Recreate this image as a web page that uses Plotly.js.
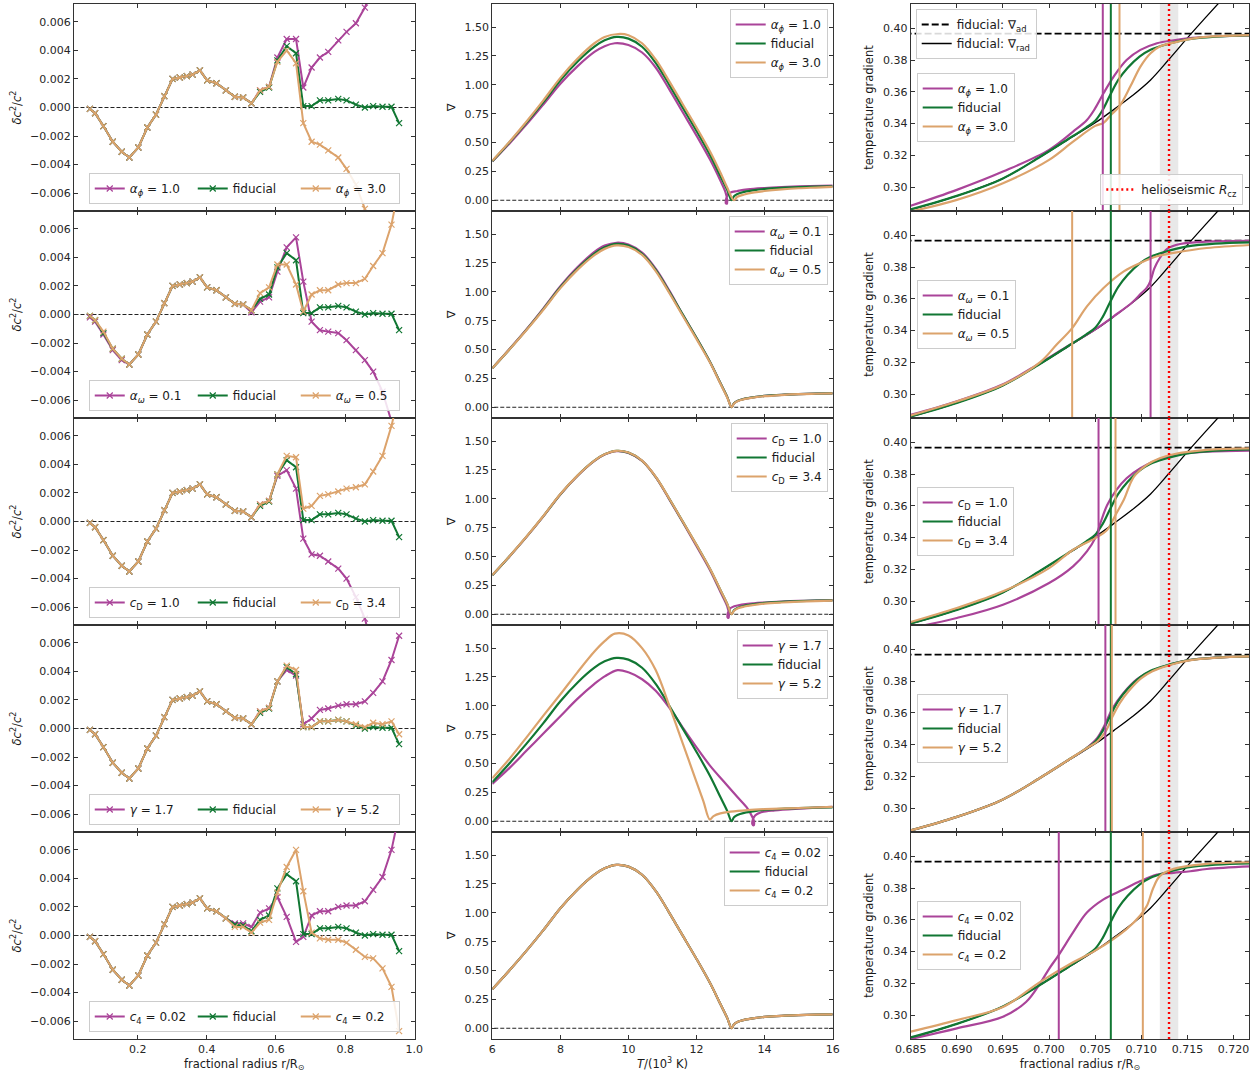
<!DOCTYPE html>
<html>
<head>
<meta charset="utf-8">
<script src="https://cdn.plot.ly/plotly-3.0.1.min.js"></script>
<style>
  html, body { margin: 0; padding: 0; background: #fff; }
  #chart { width: 1258px; height: 1076px; }
</style>
</head>
<body>
<div id="chart"></div>
<script>
// ---------------------------------------------------------------
// Left column: relative sound-speed difference vs fractional radius
// ---------------------------------------------------------------
const R = [0.062, 0.077, 0.101, 0.128, 0.154, 0.176, 0.202, 0.228, 0.253, 0.277,
           0.301, 0.322, 0.342, 0.359, 0.380, 0.401, 0.428, 0.455, 0.481, 0.505,
           0.529, 0.554, 0.580, 0.604, 0.631, 0.658, 0.679, 0.703, 0.727, 0.751,
           0.780, 0.804, 0.831, 0.857, 0.881, 0.908, 0.934, 0.956];

const DC_FID = [-0.0001, -0.0004, -0.0013, -0.0024, -0.0031, -0.0035, -0.0028, -0.0014, -0.0005, 0.0008,
                 0.0020, 0.0021, 0.0022, 0.0023, 0.0026, 0.0019, 0.0017, 0.0012, 0.00075, 0.0007,
                 0.0003, 0.0011, 0.0014, 0.0033, 0.0043, 0.0038, 0.0001, 0.0001, 0.0005, 0.0005,
                 0.0006, 0.0005, 0.0002, 0.0000, 0.0001, 0.00005, 0.00005, -0.0011];

const DC_PHI1 = [-0.0001, -0.0004, -0.0013, -0.0024, -0.0031, -0.0035, -0.0028, -0.0014, -0.0005, 0.0008,
                  0.0020, 0.0021, 0.0022, 0.0023, 0.0026, 0.0019, 0.0017, 0.0012, 0.00075, 0.0007,
                  0.0003, 0.0012, 0.00145, 0.0035, 0.0048, 0.0048, 0.0014, 0.0028, 0.0035, 0.0039,
                  0.0047, 0.0053, 0.0059, 0.0070, 0.0085, 0.0100, 0.0120, 0.0150];
const DC_PHI3 = [-0.0001, -0.0004, -0.0013, -0.0024, -0.0031, -0.0035, -0.0028, -0.0014, -0.0005, 0.0008,
                  0.0020, 0.0021, 0.0022, 0.0023, 0.0026, 0.0019, 0.0017, 0.0012, 0.00075, 0.0007,
                  0.0003, 0.0012, 0.00145, 0.0032, 0.0040, 0.0031, -0.0011, -0.0024, -0.0026, -0.0030,
                  -0.0035, -0.0043, -0.0054, -0.0071, -0.0090, -0.0110, -0.0130, -0.0160];

const DC_OM1 = [-0.0002, -0.0005, -0.0014, -0.0025, -0.0032, -0.0035, -0.0028, -0.0014, -0.0005, 0.0008,
                 0.0020, 0.0021, 0.0022, 0.0023, 0.0026, 0.0019, 0.0017, 0.0012, 0.00075, 0.0007,
                 0.00015, 0.0009, 0.0012, 0.0030, 0.0047, 0.0054, 0.0023, -0.0005, -0.0011, -0.0012,
                 -0.0013, -0.0018, -0.0025, -0.0032, -0.0040, -0.0054, -0.0075, -0.0100];
const DC_OM5 = [-0.0001, -0.0004, -0.0012, -0.0024, -0.0031, -0.0035, -0.0028, -0.0014, -0.0005, 0.0008,
                 0.0020, 0.0021, 0.0022, 0.0023, 0.0026, 0.0019, 0.0017, 0.0012, 0.00075, 0.0007,
                 0.0003, 0.0015, 0.0019, 0.0035, 0.0035, 0.0021, 0.0002, 0.0014, 0.0017, 0.0017,
                 0.0021, 0.0022, 0.0022, 0.0025, 0.0034, 0.0043, 0.0063, 0.0090];

const DC_CD1 = [-0.0001, -0.0004, -0.0013, -0.0024, -0.0031, -0.0035, -0.0028, -0.0014, -0.0005, 0.0008,
                 0.0020, 0.0021, 0.0022, 0.0023, 0.0026, 0.0019, 0.0017, 0.0012, 0.00075, 0.0007,
                 0.0003, 0.0012, 0.00145, 0.0032, 0.0036, 0.0023, -0.0012, -0.0023, -0.0024, -0.0028,
                 -0.0033, -0.0040, -0.0053, -0.0068, -0.0090, -0.0110, -0.0130, -0.0160];
const DC_CD3 = [-0.0001, -0.0004, -0.0013, -0.0024, -0.0031, -0.0035, -0.0028, -0.0014, -0.0005, 0.0008,
                 0.0020, 0.0021, 0.0022, 0.0023, 0.0026, 0.0019, 0.0017, 0.0012, 0.00075, 0.0007,
                 0.0003, 0.0012, 0.00145, 0.0033, 0.0046, 0.0045, 0.0009, 0.0011, 0.0018, 0.0019,
                 0.0021, 0.0023, 0.0024, 0.0026, 0.0035, 0.0046, 0.0067, 0.0090];

const DC_G17 = [-0.0001, -0.0004, -0.0013, -0.0024, -0.0031, -0.0035, -0.0028, -0.0014, -0.0005, 0.0008,
                 0.0020, 0.0021, 0.0022, 0.0023, 0.0026, 0.0019, 0.0017, 0.0012, 0.00075, 0.0007,
                 0.0003, 0.0012, 0.00145, 0.0033, 0.0041, 0.0037, 0.0003, 0.0007, 0.0013, 0.0014,
                 0.0016, 0.0017, 0.0017, 0.0019, 0.0025, 0.0033, 0.0048, 0.0065];
const DC_G52 = [-0.0001, -0.0004, -0.0013, -0.0024, -0.0031, -0.0035, -0.0028, -0.0014, -0.0005, 0.0008,
                 0.0020, 0.0021, 0.0022, 0.0023, 0.0026, 0.0019, 0.0017, 0.0012, 0.00075, 0.0007,
                 0.0003, 0.0012, 0.00145, 0.0033, 0.0044, 0.0041, 0.0001, 0.0001, 0.0005, 0.0005,
                 0.0006, 0.0005, 0.0003, 0.0001, 0.0004, 0.0003, 0.0005, -0.0004];

const DC_C4LO = [-0.0001, -0.0004, -0.0013, -0.0024, -0.0031, -0.0035, -0.0028, -0.0014, -0.0005, 0.0008,
                  0.0020, 0.0021, 0.0022, 0.0023, 0.0026, 0.0019, 0.0017, 0.0012, 0.00085, 0.00085,
                  0.0006, 0.0016, 0.0019, 0.0027, 0.0013, -0.00045, -0.0001, 0.0014, 0.0017, 0.0017,
                  0.0020, 0.0021, 0.0021, 0.0024, 0.0032, 0.0041, 0.0060, 0.0085];
const DC_C4HI = [-0.0001, -0.0004, -0.0013, -0.0024, -0.0031, -0.0035, -0.0028, -0.0014, -0.0005, 0.0008,
                  0.0020, 0.0021, 0.0022, 0.0023, 0.0026, 0.0019, 0.0017, 0.0012, 0.0006, 0.0006,
                  0.0002, 0.0009, 0.0011, 0.0030, 0.0048, 0.0060, 0.0031, 0.0002, -0.0002, -0.0003,
                  -0.0003, -0.0005, -0.0010, -0.0015, -0.0016, -0.0023, -0.0036, -0.0067];

// ---------------------------------------------------------------
// Middle column: superadiabatic gradient vs temperature
// ---------------------------------------------------------------
const T_FID = [6.0, 6.5, 7.0, 7.5, 8.0, 8.5, 9.0, 9.3, 9.65, 10.0, 10.4, 10.8, 11.2, 11.6,
               12.0, 12.4, 12.7, 12.9, 13.03, 13.1, 13.2, 13.4, 13.7, 14.0, 14.5, 15.0, 15.5, 16.0];
const N_FID = [0.338, 0.50, 0.67, 0.85, 1.04, 1.20, 1.33, 1.385, 1.415, 1.40, 1.33, 1.19, 1.00, 0.80,
               0.60, 0.39, 0.21, 0.09, 0.0, 0.035, 0.055, 0.073, 0.088, 0.098, 0.108, 0.114, 0.118, 0.121];

const T_PHI1 = [6.0, 6.5, 7.0, 7.5, 8.0, 8.5, 9.0, 9.3, 9.6, 10.0, 10.4, 10.8, 11.2, 11.6, 12.0,
                12.4, 12.7, 12.85, 12.9, 12.89, 12.86, 12.87, 12.92, 13.0, 13.2, 13.5, 14.0, 14.5, 15.0, 16.0];
const N_PHI1 = [0.335, 0.49, 0.655, 0.83, 1.01, 1.16, 1.285, 1.335, 1.36, 1.345, 1.28, 1.15, 0.96, 0.76, 0.56,
                0.35, 0.17, 0.07, 0.0, -0.03, -0.025, 0.01, 0.05, 0.068, 0.08, 0.094, 0.106, 0.114, 0.12, 0.128];
const T_PHI3 = [6.0, 6.5, 7.0, 7.5, 8.0, 8.5, 9.0, 9.3, 9.7, 10.0, 10.4, 10.8, 11.2, 11.6, 12.0,
                12.4, 12.7, 12.9, 13.1, 13.2, 13.4, 13.7, 14.0, 14.5, 15.0, 15.5, 16.0];
const N_PHI3 = [0.342, 0.505, 0.68, 0.865, 1.06, 1.225, 1.36, 1.415, 1.44, 1.43, 1.36, 1.22, 1.03, 0.83, 0.63,
                0.42, 0.24, 0.11, 0.0, 0.03, 0.05, 0.068, 0.08, 0.094, 0.104, 0.11, 0.116];

const N_OM1 = [0.338, 0.502, 0.673, 0.856, 1.048, 1.212, 1.345, 1.40, 1.425, 1.41, 1.34, 1.20, 1.01, 0.80,
               0.60, 0.39, 0.21, 0.09, 0.0, 0.035, 0.055, 0.073, 0.088, 0.098, 0.108, 0.114, 0.118, 0.121];
const N_OM5 = [0.338, 0.50, 0.667, 0.845, 1.032, 1.19, 1.318, 1.372, 1.402, 1.388, 1.32, 1.18, 0.99, 0.79,
               0.59, 0.385, 0.205, 0.085, 0.0, 0.033, 0.053, 0.071, 0.086, 0.096, 0.106, 0.113, 0.117, 0.12];

const T_CD1 = [6.0, 6.5, 7.0, 7.5, 8.0, 8.5, 9.0, 9.3, 9.65, 10.0, 10.4, 10.8, 11.2, 11.6, 12.0,
               12.4, 12.7, 12.9, 12.95, 12.94, 12.91, 12.92, 12.97, 13.05, 13.2, 13.5, 14.0, 14.5, 15.0, 16.0];
const N_CD1 = [0.337, 0.499, 0.668, 0.848, 1.038, 1.198, 1.328, 1.383, 1.413, 1.398, 1.328, 1.188, 0.995, 0.795, 0.59,
               0.38, 0.195, 0.07, 0.0, -0.03, -0.025, 0.01, 0.045, 0.062, 0.076, 0.09, 0.102, 0.11, 0.116, 0.123];
const N_CD3 = [0.339, 0.501, 0.671, 0.851, 1.041, 1.201, 1.331, 1.386, 1.416, 1.401, 1.331, 1.191, 1.001, 0.801,
               0.601, 0.391, 0.211, 0.091, 0.0, 0.03, 0.05, 0.067, 0.081, 0.092, 0.102, 0.109, 0.114, 0.118];

const T_G17 = [6.0, 6.5, 7.0, 7.5, 8.0, 8.5, 9.0, 9.3, 9.68, 10.0, 10.4, 10.8, 11.24, 11.6, 12.0, 12.4,
               12.8, 13.2, 13.5, 13.65, 13.69, 13.68, 13.64, 13.65, 13.72, 13.9, 14.3, 15.0, 16.0];
const N_G17 = [0.324, 0.46, 0.61, 0.76, 0.91, 1.06, 1.19, 1.255, 1.309, 1.29, 1.23, 1.13, 0.967, 0.81, 0.64, 0.48,
               0.345, 0.21, 0.11, 0.03, -0.005, -0.035, -0.025, 0.01, 0.05, 0.078, 0.095, 0.11, 0.125];
const T_G52 = [6.0, 6.5, 7.0, 7.5, 8.0, 8.5, 9.0, 9.3, 9.6, 10.0, 10.4, 10.8, 11.24, 11.6, 12.0, 12.2,
               12.39, 12.5, 12.7, 13.0, 13.5, 14.0, 15.0, 16.0];
const N_G52 = [0.372, 0.54, 0.725, 0.915, 1.10, 1.29, 1.47, 1.56, 1.625, 1.61, 1.50, 1.31, 0.967, 0.67, 0.34, 0.175,
               0.015, 0.045, 0.068, 0.083, 0.097, 0.105, 0.115, 0.124];

// ---------------------------------------------------------------
// Right column: temperature gradient near the base of the convection zone
// ---------------------------------------------------------------
const NABLA_AD = 0.3966;
const RAD_X = [0.685, 0.690, 0.695, 0.699, 0.702, 0.705, 0.707, 0.709, 0.711, 0.713, 0.715, 0.717, 0.7195];
const RAD_G = [0.2858, 0.2945, 0.3055, 0.3190, 0.3298, 0.3405, 0.3488, 0.3575, 0.3675, 0.3805, 0.3940, 0.4070, 0.4230];

const RX_FID = [0.685, 0.690, 0.695, 0.699, 0.702, 0.704, 0.705, 0.7058, 0.7067, 0.7075, 0.7085, 0.7098, 0.711, 0.7125, 0.715, 0.718, 0.7225];
const G_FID  = [0.2860, 0.2945, 0.3055, 0.3190, 0.3300, 0.3375, 0.3418, 0.3485, 0.3590, 0.3675, 0.3750, 0.3822, 0.3865, 0.3895, 0.3930, 0.3948, 0.3957];

const RX_PHI1 = [0.685, 0.690, 0.695, 0.700, 0.7026, 0.7041, 0.705, 0.7059, 0.707, 0.7084, 0.7099, 0.7117, 0.7135, 0.7155, 0.7185, 0.7225];
const G_PHI1  = [0.2883, 0.2983, 0.3098, 0.3235, 0.3350, 0.3423, 0.3497, 0.3591, 0.3696, 0.3800, 0.3864, 0.3906, 0.3925, 0.3940, 0.3950, 0.3956];
const RX_PHI3 = [0.685, 0.690, 0.695, 0.700, 0.7026, 0.705, 0.7059, 0.7067, 0.7076, 0.7088, 0.7099, 0.7110, 0.7120, 0.7135, 0.716, 0.719, 0.7225];
const G_PHI3  = [0.2847, 0.2920, 0.3025, 0.3172, 0.3287, 0.3386, 0.3405, 0.3455, 0.3507, 0.3633, 0.3759, 0.3843, 0.3885, 0.3910, 0.3940, 0.3952, 0.3958];

const RX_OM1 = [0.685, 0.690, 0.695, 0.699, 0.702, 0.705, 0.707, 0.709, 0.7099, 0.7106, 0.7110, 0.7114, 0.7120, 0.7128, 0.7142, 0.7171, 0.7225];
const G_OM1  = [0.2870, 0.2955, 0.3062, 0.3195, 0.3302, 0.3408, 0.3490, 0.3577, 0.3630, 0.3670, 0.3715, 0.3790, 0.3857, 0.3915, 0.3945, 0.3960, 0.3965];
const RX_OM5 = [0.685, 0.690, 0.695, 0.699, 0.7008, 0.7025, 0.7041, 0.7059, 0.7081, 0.7099, 0.7117, 0.7135, 0.7171, 0.7225];
const G_OM5  = [0.2866, 0.2954, 0.3059, 0.3200, 0.3311, 0.3416, 0.3553, 0.3668, 0.3773, 0.3826, 0.3868, 0.3889, 0.3920, 0.3941];

const RX_CD1 = [0.685, 0.690, 0.695, 0.700, 0.7026, 0.7041, 0.705, 0.7055, 0.7063, 0.7073, 0.7084, 0.7099, 0.7117, 0.7135, 0.7171, 0.7225];
const G_CD1  = [0.2831, 0.2894, 0.2978, 0.3114, 0.3219, 0.3313, 0.3397, 0.3481, 0.3606, 0.3701, 0.3774, 0.3837, 0.3889, 0.3920, 0.3941, 0.3948];
const RX_CD3 = [0.685, 0.690, 0.695, 0.700, 0.7026, 0.705, 0.7063, 0.7072, 0.7081, 0.7092, 0.7106, 0.7120, 0.7135, 0.7171, 0.7225];
const G_CD3  = [0.2869, 0.2957, 0.3062, 0.3208, 0.3324, 0.3397, 0.3449, 0.3543, 0.3638, 0.3784, 0.3858, 0.3899, 0.3925, 0.3952, 0.3962];

const RX_G17 = [0.685, 0.690, 0.695, 0.699, 0.702, 0.704, 0.7052, 0.706, 0.7069, 0.7080, 0.7095, 0.711, 0.7125, 0.715, 0.718, 0.7225];
const G_G17  = [0.2860, 0.2945, 0.3055, 0.3190, 0.3300, 0.3375, 0.3440, 0.3520, 0.3630, 0.3720, 0.3810, 0.3860, 0.3893, 0.3930, 0.3948, 0.3957];
const RX_G52 = [0.685, 0.690, 0.695, 0.699, 0.702, 0.704, 0.7052, 0.7061, 0.7069, 0.7077, 0.7087, 0.7100, 0.7112, 0.7127, 0.7152, 0.7182, 0.7225];
const G_G52  = [0.2860, 0.2945, 0.3055, 0.3190, 0.3300, 0.3375, 0.3418, 0.3480, 0.3580, 0.3665, 0.3742, 0.3818, 0.3862, 0.3894, 0.3930, 0.3948, 0.3957];

const RX_C4LO = [0.685, 0.690, 0.695, 0.6975, 0.699, 0.700, 0.701, 0.7026, 0.7041, 0.7059, 0.7081, 0.7099, 0.7117, 0.7135, 0.7153, 0.7171, 0.7225];
const G_C4LO  = [0.2850, 0.2917, 0.2990, 0.3083, 0.3198, 0.3292, 0.3375, 0.3521, 0.3646, 0.3729, 0.3792, 0.3844, 0.3885, 0.3896, 0.3906, 0.3920, 0.3938];
const RX_C4HI = [0.685, 0.690, 0.695, 0.699, 0.7026, 0.705, 0.7084, 0.7099, 0.7106, 0.7113, 0.7120, 0.7135, 0.7171, 0.7225];
const G_C4HI  = [0.2896, 0.2969, 0.3052, 0.3208, 0.3333, 0.3406, 0.3542, 0.3629, 0.3688, 0.3802, 0.3875, 0.3921, 0.3952, 0.3963];

// base of the convection zone for each model, per row: [purple, fiducial, tan]
const RCZ_PHI = [0.70582, 0.70669, 0.70763];
const RCZ_OM  = [0.71100, 0.70669, 0.70250];
const RCZ_CD  = [0.70536, 0.70669, 0.70720];
const RCZ_G   = [0.70610, 0.70669, 0.70680];
const RCZ_C4  = [0.70105, 0.70669, 0.71016];

// helioseismic base of the convection zone and its uncertainty
const RCZ_HELIO = 0.713;
const RCZ_HELIO_ERR = 0.001;

// legend labels
const LABELS = [
  ['<i>α</i><sub><i>ϕ</i></sub> = 1.0', 'fiducial', '<i>α</i><sub><i>ϕ</i></sub> = 3.0'],
  ['<i>α</i><sub><i>ω</i></sub> = 0.1', 'fiducial', '<i>α</i><sub><i>ω</i></sub> = 0.5'],
  ['<i>c</i><sub>D</sub> = 1.0', 'fiducial', '<i>c</i><sub>D</sub> = 3.4'],
  ['<i>γ</i> = 1.7', 'fiducial', '<i>γ</i> = 5.2'],
  ['<i>c</i><sub>4</sub> = 0.02', 'fiducial', '<i>c</i><sub>4</sub> = 0.2']
];

// ---------------------------------------------------------------
const PURPLE = '#AA4499', GREEN = '#117733', TAN = '#DCA36C';
const COLORS = [PURPLE, GREEN, TAN];
const FONT = 'DejaVu Sans, Verdana, sans-serif';
const W = 1258, H = 1076;

const ROWS = [
  { dc: [DC_PHI1, DC_FID, DC_PHI3],
    nab: [[T_PHI1, N_PHI1], [T_FID, N_FID], [T_PHI3, N_PHI3]],
    grad: [[RX_PHI1, G_PHI1], [RX_FID, G_FID], [RX_PHI3, G_PHI3]], rcz: RCZ_PHI },
  { dc: [DC_OM1, DC_FID, DC_OM5],
    nab: [[T_FID, N_OM1], [T_FID, N_FID], [T_FID, N_OM5]],
    grad: [[RX_OM1, G_OM1], [RX_FID, G_FID], [RX_OM5, G_OM5]], rcz: RCZ_OM },
  { dc: [DC_CD1, DC_FID, DC_CD3],
    nab: [[T_CD1, N_CD1], [T_FID, N_FID], [T_FID, N_CD3]],
    grad: [[RX_CD1, G_CD1], [RX_FID, G_FID], [RX_CD3, G_CD3]], rcz: RCZ_CD },
  { dc: [DC_G17, DC_FID, DC_G52],
    nab: [[T_G17, N_G17], [T_FID, N_FID], [T_G52, N_G52]],
    grad: [[RX_G17, G_G17], [RX_FID, G_FID], [RX_G52, G_G52]], rcz: RCZ_G },
  { dc: [DC_C4LO, DC_FID, DC_C4HI],
    nab: [[T_FID, N_FID], [T_FID, N_FID], [T_FID, N_FID]],
    grad: [[RX_C4LO, G_C4LO], [RX_FID, G_FID], [RX_C4HI, G_C4HI]], rcz: RCZ_C4 }
];

// subplot geometry (pixels)
const COLS_PX = [[74, 414.5], [492.3, 832.7], [910.7, 1249.3]];
const ROW_TOP = 4, ROW_H = 207;
const colDomain = c => [COLS_PX[c][0] / W, COLS_PX[c][1] / W];
const rowDomain = r => [1 - (ROW_TOP + ROW_H * (r + 1)) / H, 1 - (ROW_TOP + ROW_H * r) / H];

const traces = [];
const layout = {
  width: W, height: H,
  margin: { l: 0, r: 0, t: 0, b: 0 },
  paper_bgcolor: '#fff', plot_bgcolor: '#fff',
  font: { family: FONT, size: 11, color: '#262626' },
  showlegend: true
};

function axis(domain, anchor, extra) {
  return Object.assign({
    domain: domain, anchor: anchor,
    showline: true, mirror: 'allticks', linecolor: '#333', linewidth: 1,
    ticks: 'inside', ticklen: 4, tickwidth: 1, tickcolor: '#333',
    showgrid: false, zeroline: false, automargin: false,
    tickfont: { family: FONT, size: 11, color: '#262626' }
  }, extra);
}
function legendBox(extra) {
  return Object.assign({
    bgcolor: 'rgba(255,255,255,0.85)', bordercolor: '#cccccc', borderwidth: 1,
    font: { family: FONT, size: 12, color: '#1a1a1a' }, tracegroupgap: 0
  }, extra);
}
const titleFont = { family: FONT, size: 11.5, color: '#1a1a1a' };

ROWS.forEach((row, r) => {
  const yd = rowDomain(r);
  const last = r === ROWS.length - 1;
  const kL = 3 * r + 1, kM = 3 * r + 2, kR = 3 * r + 3;
  const xn = k => (k === 1 ? 'x' : 'x' + k);
  const yn = k => (k === 1 ? 'y' : 'y' + k);
  const xa = k => (k === 1 ? 'xaxis' : 'xaxis' + k);
  const ya = k => (k === 1 ? 'yaxis' : 'yaxis' + k);
  const legL = r === 0 ? 'legend' : 'legend' + (r + 1);
  const legM = 'legend' + (r + 6);
  const legR = 'legend' + (r + 11);

  // ---- left panel ----
  layout[xa(kL)] = axis(colDomain(0), yn(kL), {
    range: [0.016, 1.0005], tickvals: [0.2, 0.4, 0.6, 0.8, 1.0], tickformat: '.1f',
    showticklabels: last,
    title: last ? { text: 'fractional radius r/R<sub>⊙</sub>', font: titleFont, standoff: 4 } : undefined
  });
  layout[ya(kL)] = axis(yd, xn(kL), {
    range: [-0.00725, 0.00725], tickvals: [-0.006, -0.004, -0.002, 0, 0.002, 0.004, 0.006], tickformat: '.3f',
    title: { text: '<i>δc</i><sup>2</sup>/<i>c</i><sup>2</sup>', font: titleFont, standoff: 6 }
  });
  traces.push({ x: [0, 1.05], y: [0, 0], xaxis: xn(kL), yaxis: yn(kL), mode: 'lines',
    line: { color: '#222', width: 1, dash: '4px,2px' }, showlegend: false, hoverinfo: 'skip' });
  row.dc.forEach((vals, i) => {
    traces.push({ x: R, y: vals, xaxis: xn(kL), yaxis: yn(kL), mode: 'lines+markers',
      name: LABELS[r][i], legend: legL,
      line: { color: COLORS[i], width: 2 },
      marker: { symbol: 'x-thin-open', size: 6, color: COLORS[i], line: { color: COLORS[i], width: 1.2 } } });
  });
  layout[legL] = legendBox({
    orientation: 'h', x: (colDomain(0)[0] + colDomain(0)[1]) / 2, xanchor: 'center',
    y: yd[0] + 7 / H, yanchor: 'bottom', entrywidth: 58, itemwidth: 30
  });

  // ---- middle panel ----
  layout[xa(kM)] = axis(colDomain(1), yn(kM), {
    range: [6, 16], tick0: 6, dtick: 2, showticklabels: last,
    title: last ? { text: '<i>T</i>/(10<sup>3</sup> K)', font: titleFont, standoff: 4 } : undefined
  });
  layout[ya(kM)] = axis(yd, xn(kM), {
    range: [-0.093, 1.70], tickvals: [0, 0.25, 0.5, 0.75, 1.0, 1.25, 1.5], tickformat: '.2f',
    title: { text: '∇', font: titleFont, standoff: 6 }
  });
  traces.push({ x: [5, 17], y: [0, 0], xaxis: xn(kM), yaxis: yn(kM), mode: 'lines',
    line: { color: '#222', width: 1, dash: '4px,2px' }, showlegend: false, hoverinfo: 'skip' });
  row.nab.forEach((pair, i) => {
    traces.push({ x: pair[0], y: pair[1], xaxis: xn(kM), yaxis: yn(kM), mode: 'lines',
      name: LABELS[r][i], legend: legM,
      line: { color: COLORS[i], width: 2.2, shape: 'spline', smoothing: 1.0 } });
  });
  layout[legM] = legendBox({
    x: colDomain(1)[1] - 5 / W, xanchor: 'right', y: yd[1] - 5 / H, yanchor: 'top'
  });

  // ---- right panel ----
  layout[xa(kR)] = axis(colDomain(2), yn(kR), {
    range: [0.685, 0.7217], tick0: 0.685, dtick: 0.005, tickformat: '.3f', showticklabels: last,
    title: last ? { text: 'fractional radius r/R<sub>⊙</sub>', font: titleFont, standoff: 4 } : undefined
  });
  layout[ya(kR)] = axis(yd, xn(kR), {
    range: [0.285, 0.4153], tickvals: [0.30, 0.32, 0.34, 0.36, 0.38, 0.40], tickformat: '.2f',
    title: { text: 'temperature gradient', font: titleFont, standoff: 6 }
  });
  // helioseismic uncertainty band
  traces.push({ x: [RCZ_HELIO - RCZ_HELIO_ERR, RCZ_HELIO + RCZ_HELIO_ERR, RCZ_HELIO + RCZ_HELIO_ERR, RCZ_HELIO - RCZ_HELIO_ERR],
    y: [0.2, 0.2, 0.5, 0.5], xaxis: xn(kR), yaxis: yn(kR), mode: 'lines', fill: 'toself',
    fillcolor: 'rgba(0,0,0,0.09)', line: { width: 0 }, showlegend: false, hoverinfo: 'skip' });
  // fiducial adiabatic and radiative gradients
  traces.push({ x: [0.68, 0.73], y: [NABLA_AD, NABLA_AD], xaxis: xn(kR), yaxis: yn(kR), mode: 'lines',
    name: 'fiducial: ∇<sub>ad</sub>', legend: 'legend16', showlegend: r === 0,
    line: { color: '#000', width: 1.8, dash: '7px,3px' } });
  traces.push({ x: RAD_X, y: RAD_G, xaxis: xn(kR), yaxis: yn(kR), mode: 'lines',
    name: 'fiducial: ∇<sub>rad</sub>', legend: 'legend16', showlegend: r === 0,
    line: { color: '#000', width: 1.3, shape: 'spline', smoothing: 1.0 } });
  row.grad.forEach((pair, i) => {
    traces.push({ x: pair[0], y: pair[1], xaxis: xn(kR), yaxis: yn(kR), mode: 'lines',
      name: LABELS[r][i], legend: legR,
      line: { color: COLORS[i], width: 2.2, shape: 'spline', smoothing: 1.0 } });
  });
  row.rcz.forEach((v, i) => {
    traces.push({ x: [v, v], y: [0.2, 0.5], xaxis: xn(kR), yaxis: yn(kR), mode: 'lines',
      line: { color: COLORS[i], width: 2 }, showlegend: false, hoverinfo: 'skip' });
  });
  traces.push({ x: [RCZ_HELIO, RCZ_HELIO], y: [0.2, 0.5], xaxis: xn(kR), yaxis: yn(kR), mode: 'lines',
    name: 'helioseismic <i>R</i><sub>cz</sub>', legend: 'legend17', showlegend: r === 0,
    line: { color: '#ff0000', width: 2.4, dash: '2px,3px' } });
  layout[legR] = legendBox({
    x: colDomain(2)[0] + 6 / W, xanchor: 'left', y: (yd[0] + yd[1]) / 2, yanchor: 'middle'
  });
  if (r === 0) {
    layout.legend16 = legendBox({
      x: colDomain(2)[0] + 5 / W, xanchor: 'left', y: yd[1] - 5 / H, yanchor: 'top'
    });
    layout.legend17 = legendBox({
      x: colDomain(2)[1] - 6 / W, xanchor: 'right', y: yd[0] + 6 / H, yanchor: 'bottom'
    });
  }
});

Plotly.newPlot('chart', traces, layout, { staticPlot: true, displayModeBar: false });
</script>
</body>
</html>
